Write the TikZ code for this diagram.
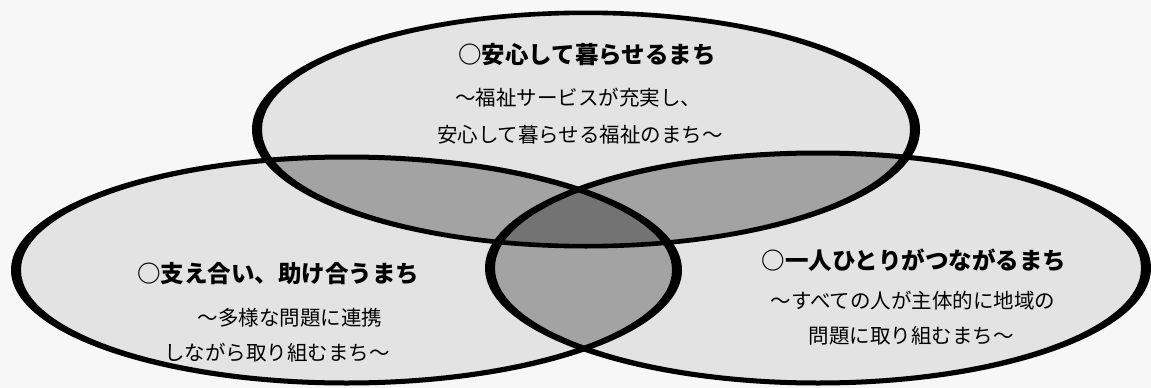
\documentclass[tikz,border=0pt]{standalone}
\usepackage{fontspec}
\newfontfamily\jp{Noto Sans CJK JP}
\begin{document}
\begin{tikzpicture}[x=1pt,y=-1pt,
  bgc/.style={fill=black!3},
  single/.style={fill=black!11},
  double/.style={fill=black!36},
  triple/.style={fill=black!55},
  ttl/.style={font=\jp\bfseries\fontsize{23.5}{26}\selectfont, inner sep=0pt, anchor=base},
  sub/.style={font=\jp\fontsize{20.5}{24}\selectfont, inner sep=0pt, anchor=base}]
\useasboundingbox (0,0) rectangle (1151,388);
\fill[bgc] (0,0) rectangle (1151,388);
% centers
\coordinate (T) at (586,129.5);
\coordinate (L) at (346.5,270);
\coordinate (R) at (818,268);
\def\Tshape{(T) ellipse [x radius=329pt, y radius=116.7pt]}
\def\Lshape{(L) ellipse [x radius=330.5pt, y radius=113pt]}
\def\Rshape{(R) ellipse [x radius=328pt, y radius=115pt]}
% single fills
\fill[single] \Tshape;
\fill[single] \Lshape;
\fill[single] \Rshape;
% pairwise
\begin{scope}\clip \Tshape; \fill[double] \Lshape; \fill[double] \Rshape; \end{scope}
\begin{scope}\clip \Lshape; \fill[double] \Rshape; \end{scope}
% triple
\begin{scope}\clip \Tshape; \clip \Lshape; \fill[triple] \Rshape; \end{scope}
% outlines (thicker at the sides, as in the scan)
\fill[black, even odd rule] (T) ellipse [x radius=334pt, y radius=119pt] (T) ellipse [x radius=324pt, y radius=114.4pt];
\fill[black, even odd rule] (L) ellipse [x radius=335.5pt, y radius=115.5pt] (L) ellipse [x radius=325.5pt, y radius=110.5pt];
\fill[black, even odd rule] (R) ellipse [x radius=333pt, y radius=117.5pt] (R) ellipse [x radius=323pt, y radius=112.5pt];
% texts
\node[ttl] (t1) at (587,63) {○安心して暮らせるまち};
\node[sub] (t2) at (578,105) {～福祉サービスが充実し、};
\node[sub] (t3) at (580,142) {安心して暮らせる福祉のまち～};
\node[ttl] (l1) at (278,282) {○支え合い、助け合うまち};
\node[sub] (l2) at (290,325) {～多様な問題に連携};
\node[sub] (l3) at (277,360) {しながら取り組むまち～};
\node[ttl] (r1) at (914,269) {○一人ひとりがつながるまち};
\node[sub] (r2) at (913,308) {～すべての人が主体的に地域の};
\node[sub] (r3) at (911,343) {問題に取り組むまち～};
\end{tikzpicture}
\end{document}
